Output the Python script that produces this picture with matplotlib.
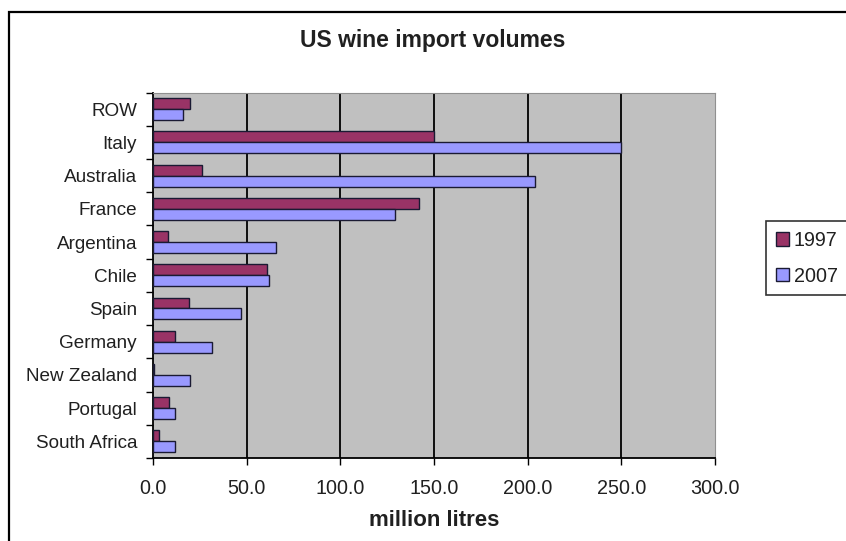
import numpy as np
import matplotlib
matplotlib.use("Agg")
import matplotlib.pyplot as plt
from matplotlib.patches import Rectangle

plt.rcParams['font.family'] = ['Liberation Sans', 'DejaVu Sans']

countries = ["ROW", "Italy", "Australia", "France", "Argentina", "Chile",
             "Spain", "Germany", "New Zealand", "Portugal", "South Africa"]
vol_1997 = [20, 150, 26, 142, 7.8, 61, 19, 11.7, 0.5, 8.7, 3]
vol_2007 = [16, 250, 204, 129, 65.5, 62, 47, 31.3, 20, 11.7, 11.7]
series_labels = ["1997", "2007"]
x_ticks = [0, 50, 100, 150, 200, 250, 300]

fig = plt.figure(figsize=(8.46, 5.41), dpi=100)
W, H = 846, 541

# chart area border
fig.patches.append(Rectangle((9 / W, -0.05), 1.0, 1 - 12 / H + 0.05,
                             transform=fig.transFigure, fill=False,
                             edgecolor="black", linewidth=1.6))

left, right, top, bottom = 153, 715, 92.5, 458
ax = fig.add_axes([left / W, 1 - bottom / H, (right - left) / W, (bottom - top) / H])
ax.set_facecolor("#C0C0C0")

y = np.arange(len(countries))
h = 0.33
ax.barh(y - h / 2, vol_1997, height=h, color="#993366", edgecolor="#1a1a33",
        linewidth=1.0, label=series_labels[0], zorder=3)
ax.barh(y + h / 2, vol_2007, height=h, color="#9999FF", edgecolor="#1a1a33",
        linewidth=1.0, label=series_labels[1], zorder=3)

ax.set_xlim(0, 300)
ax.set_ylim(len(countries) - 0.5, -0.5)
ax.set_xticks(x_ticks)
ax.set_xticklabels([f"{v:.1f}" for v in x_ticks], fontsize=14.2, color="#202020")
ax.set_yticks(y)
ax.set_yticklabels(countries, fontsize=13.6, color="#202020")
ax.tick_params(axis="y", length=0, pad=11.5)
ax.set_yticks(np.arange(-0.5, len(countries)), minor=True)
ax.tick_params(axis="y", which="minor", length=5, width=1, direction="out")
ax.tick_params(axis="x", length=5, width=1, direction="out", pad=10)

for v in x_ticks[1:-1]:
    ax.axvline(v, color="black", linewidth=1.3, zorder=1)

for side in ("top", "right"):
    ax.spines[side].set_color("#909090")
ax.spines["left"].set_color("black")
ax.spines["left"].set_linewidth(1.3)
ax.spines["bottom"].set_color("black")
ax.spines["bottom"].set_linewidth(1.3)

ax.set_xlabel("million litres", fontsize=16, fontweight="bold", color="#202020",
              va="center")
ax.xaxis.set_label_coords(0.5, (bottom - 520) / (bottom - top))
fig.text(433 / W, 1 - 40 / H, "US wine import volumes", ha="center",
         va="center", fontsize=16.5, fontweight="bold", color="#202020")

leg = fig.legend(loc="upper left", bbox_to_anchor=(766 / W, 1 - 221 / H),
                 fontsize=14.2, frameon=True, fancybox=False,
                 handlelength=0.65, handleheight=0.65, handletextpad=0.25,
                 labelspacing=0.85, borderpad=0.5, borderaxespad=0)
leg.get_frame().set_edgecolor("black")
leg.get_frame().set_linewidth(1.2)
for t in leg.get_texts():
    t.set_color("#202020")

fig.savefig("out.png", dpi=100)
